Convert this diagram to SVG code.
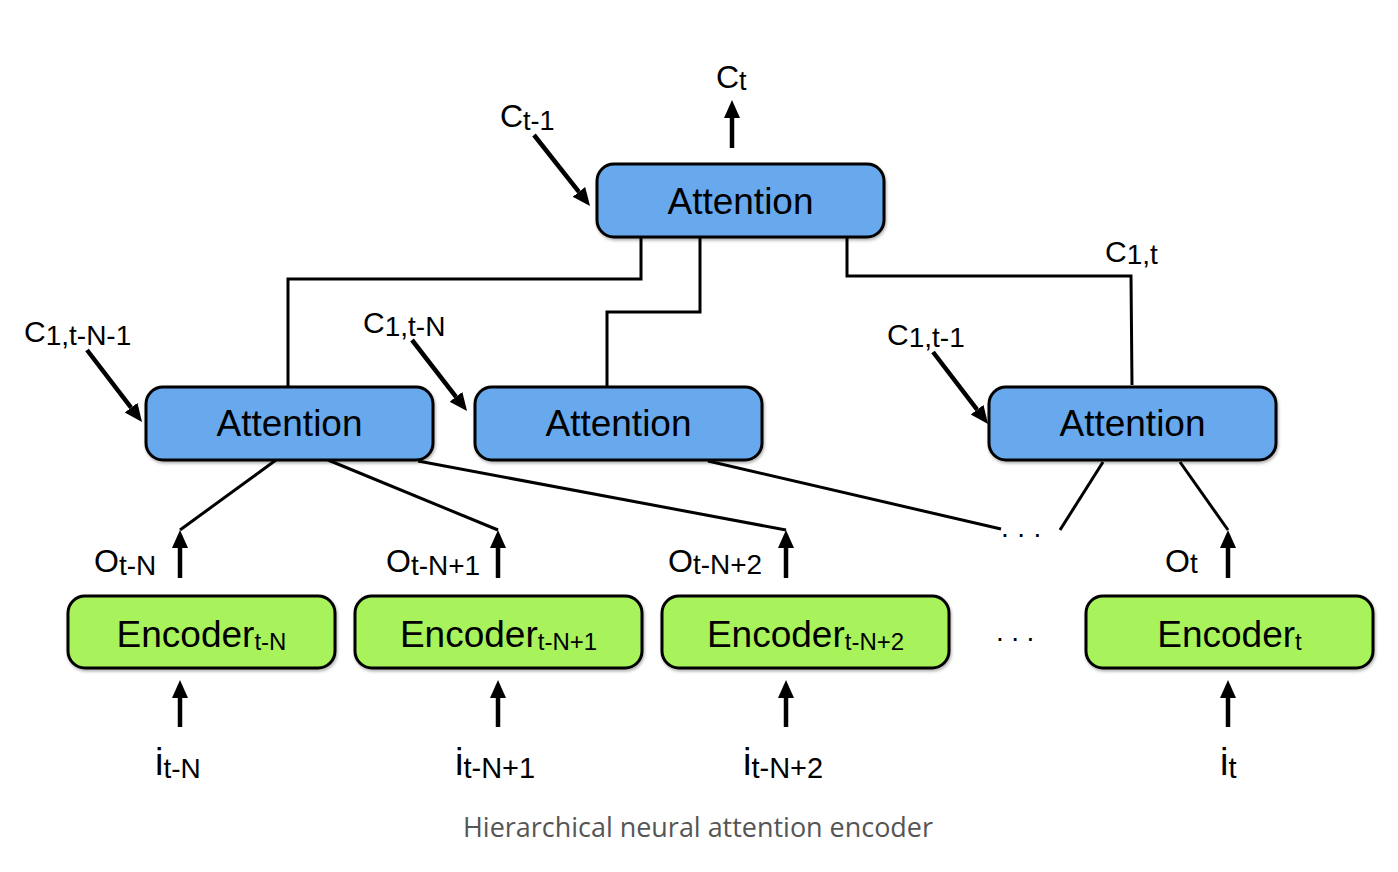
<svg xmlns="http://www.w3.org/2000/svg" width="1398" height="872" viewBox="0 0 1398 872">
<defs>
<style>
.att{fill:#67A9EE;stroke:#000;stroke-width:3}
.enc{fill:#A8F25B;stroke:#000;stroke-width:3}
.lbl{font-family:"Liberation Sans",Arial,sans-serif;fill:#000}
.big{font-size:37px}
.wire{fill:none;stroke:#000;stroke-width:3;stroke-linejoin:miter}
.arr{fill:none;stroke:#000;stroke-width:4.5;marker-end:url(#ah)}
.cap{font-family:"Open Sans","Liberation Sans",sans-serif;font-size:27px;fill:#555}
</style>
<marker id="ah" markerUnits="userSpaceOnUse" markerWidth="20" markerHeight="18" refX="0" refY="8" orient="auto" viewBox="0 0 20 16">
<path d="M0,0 L18,8 L0,16 z" fill="#000"/>
</marker>
<filter id="sh" x="-5%" y="-10%" width="110%" height="130%">
<feDropShadow dx="1" dy="2" stdDeviation="1.5" flood-color="#000" flood-opacity="0.3"/>
</filter>
</defs>
<rect width="1398" height="872" fill="#fff"/>

<g id="connectors">
<polyline class="wire" points="641,237 641,279 288,279 288,387"/>
<polyline class="wire" points="700,237 700,312 607,312 607,387"/>
<polyline class="wire" points="847,235 847,276 1131,276 1132,385"/>
<line class="wire" x1="276" y1="460" x2="180" y2="530"/>
<line class="wire" x1="328" y1="460" x2="498" y2="530"/>
<line class="wire" x1="418" y1="461" x2="786" y2="530"/>
<line class="wire" x1="708" y1="461" x2="1001" y2="529"/>
<line class="wire" x1="1103" y1="462" x2="1060" y2="530"/>
<line class="wire" x1="1180" y1="462" x2="1228" y2="530"/>
<line class="arr" x1="732" y1="148" x2="732" y2="118"/>
<line class="arr" x1="534" y1="135" x2="578.9" y2="191.9"/>
<line class="arr" x1="87" y1="350" x2="131.1" y2="407.7"/>
<line class="arr" x1="412" y1="340" x2="456" y2="396.8"/>
<line class="arr" x1="933" y1="352" x2="977.1" y2="409.7"/>
<line class="arr" x1="180" y1="578" x2="180" y2="548"/>
<line class="arr" x1="498" y1="578" x2="498" y2="548"/>
<line class="arr" x1="786" y1="578" x2="786" y2="548"/>
<line class="arr" x1="1228" y1="578" x2="1228" y2="548"/>
<line class="arr" x1="180" y1="727" x2="180" y2="698"/>
<line class="arr" x1="498" y1="727" x2="498" y2="698"/>
<line class="arr" x1="786" y1="727" x2="786" y2="698"/>
<line class="arr" x1="1228" y1="727" x2="1228" y2="698"/>
</g>

<g id="att-top">
<rect class="att" x="597" y="164" width="287" height="73" rx="17" filter="url(#sh)"/>
<text class="lbl big" x="740.5" y="214" text-anchor="middle">Attention</text>
</g>
<g id="att-1">
<rect class="att" x="146" y="387" width="287" height="73" rx="17" filter="url(#sh)"/>
<text class="lbl big" x="289.5" y="436" text-anchor="middle">Attention</text>
</g>
<g id="att-2">
<rect class="att" x="475" y="387" width="287" height="73" rx="17" filter="url(#sh)"/>
<text class="lbl big" x="618.5" y="436" text-anchor="middle">Attention</text>
</g>
<g id="att-3">
<rect class="att" x="989" y="387" width="287" height="73" rx="17" filter="url(#sh)"/>
<text class="lbl big" x="1132.5" y="436" text-anchor="middle">Attention</text>
</g>

<g id="enc-1">
<rect class="enc" x="68" y="596" width="267" height="72" rx="17" filter="url(#sh)"/>
<text class="lbl big" x="201.5" y="647" text-anchor="middle">Encoder<tspan font-size="24" dy="3">t-N</tspan></text>
</g>
<g id="enc-2">
<rect class="enc" x="355" y="596" width="287" height="72" rx="17" filter="url(#sh)"/>
<text class="lbl big" x="498.5" y="647" text-anchor="middle">Encoder<tspan font-size="24" dy="3">t-N+1</tspan></text>
</g>
<g id="enc-3">
<rect class="enc" x="662" y="596" width="287" height="72" rx="17" filter="url(#sh)"/>
<text class="lbl big" x="805.5" y="647" text-anchor="middle">Encoder<tspan font-size="24" dy="3">t-N+2</tspan></text>
</g>
<g id="enc-4">
<rect class="enc" x="1086" y="596" width="287" height="72" rx="17" filter="url(#sh)"/>
<text class="lbl big" x="1229.5" y="647" text-anchor="middle">Encoder<tspan font-size="24" dy="3">t</tspan></text>
</g>

<g id="labels">
<text class="lbl" x="716" y="88" font-size="32">C<tspan font-size="27" dy="2">t</tspan></text>
<text class="lbl" x="500" y="127" font-size="32">C<tspan font-size="27" dy="3">t-1</tspan></text>
<text class="lbl" x="24" y="342" font-size="30">C<tspan font-size="28" dy="3">1,t-N-1</tspan></text>
<text class="lbl" x="363" y="333" font-size="30">C<tspan font-size="28" dy="3">1,t-N</tspan></text>
<text class="lbl" x="887" y="345" font-size="30">C<tspan font-size="28" dy="2">1,t-1</tspan></text>
<text class="lbl" x="1105" y="262" font-size="30">C<tspan font-size="28" dy="2">1,t</tspan></text>
<text class="lbl" x="94" y="572" font-size="32">O<tspan font-size="28" dy="3">t-N</tspan></text>
<text class="lbl" x="386" y="572" font-size="32">O<tspan font-size="28" dy="3">t-N+1</tspan></text>
<text class="lbl" x="668" y="572" font-size="32">O<tspan font-size="28" dy="2">t-N+2</tspan></text>
<text class="lbl" x="1165" y="572" font-size="32">O<tspan font-size="28" dy="1">t</tspan></text>
<text class="lbl" x="155" y="775" font-size="38">i<tspan font-size="28" dy="3">t-N</tspan></text>
<text class="lbl" x="455" y="775" font-size="38">i<tspan font-size="29" dy="3">t-N+1</tspan></text>
<text class="lbl" x="743" y="775" font-size="38">i<tspan font-size="29" dy="3">t-N+2</tspan></text>
<text class="lbl" x="1220" y="775" font-size="38">i<tspan font-size="29" dy="3">t</tspan></text>
<text class="lbl" x="1001" y="537" font-size="28" letter-spacing="8.5">...</text>
<text class="lbl" x="996" y="641" font-size="28" letter-spacing="7.5">...</text>
</g>

<text class="cap" x="698" y="837" text-anchor="middle" textLength="470" lengthAdjust="spacingAndGlyphs">Hierarchical neural attention encoder</text>
</svg>
